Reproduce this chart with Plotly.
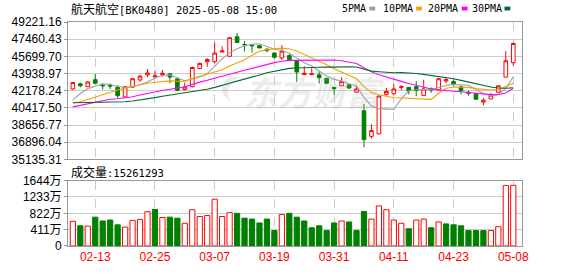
import plotly.graph_objects as go

# ---------------- data ----------------
dates = ["02-10","02-11","02-12","02-13","02-14","02-17","02-18","02-19","02-20","02-21",
         "02-24","02-25","02-26","02-27","02-28","03-03","03-04","03-05","03-06","03-07",
         "03-10","03-11","03-12","03-13","03-14","03-17","03-18","03-19","03-20","03-21",
         "03-24","03-25","03-26","03-27","03-28","03-31","04-01","04-02","04-03","04-07",
         "04-08","04-09","04-10","04-11","04-14","04-15","04-16","04-17","04-18","04-21",
         "04-22","04-23","04-24","04-25","04-28","04-29","04-30","05-06","05-07","05-08"]

opens = [42360,42885,42589,43312,42754,42754,42524,41539,42556,43279,
         43804,43607,43837,43903,43377,42294,42589,44461,45150,45150,
         46135,45708,47711,46923,46857,46792,46430,46037,45544,45774,
         45216,43837,43837,43804,43443,42524,42688,42786,42031,40127,
         37501,37763,41801,41867,42524,42524,42589,41703,42392,42261,
         43180,43115,42589,42031,41867,41014,41342,42031,43574,45052]
highs = [43050,43016,43110,43903,42885,42918,42754,42655,43476,43837,
         44395,44231,44297,44001,43509,43016,44658,45052,45511,47120,
         46726,47678,48105,47284,46923,46857,46529,46135,46857,45938,
         45216,44690,44493,44165,43509,42524,43574,42852,42688,40817,
         38748,41637,42458,42852,42754,42524,43180,43312,42524,43509,
         43509,43312,42688,42195,41933,41440,41966,42688,46233,47120]
lows = [42294,42524,42560,42852,42294,42360,41440,41539,42458,43115,
        43574,43476,43607,42950,42130,42195,42524,44395,44625,44986,
        46135,45708,47120,46201,46069,46529,46102,45478,45347,45347,
        43082,43837,43771,42918,42852,41768,42688,42360,41966,36384,
        37271,37698,41670,41768,42230,41801,41605,41703,41966,42195,
        42950,42622,41801,41670,41309,40685,41342,41933,43574,44723]
closes = [43016,42688,43082,42950,42688,42660,41670,42589,43410,43673,
          44001,43706,43968,43574,42228,42556,44559,44986,45380,46037,
          46266,47612,47120,46890,46792,46562,46299,45610,46233,45347,
          44100,43968,43903,43509,42950,42392,43115,42458,42360,37172,
          38092,41637,42097,42360,42600,42163,42195,42360,42261,43410,
          43312,42819,42195,41933,41309,41210,41736,42688,45249,47021]
# closes of the 29 sessions before the window (estimated from the MA lines)
prior_closes = [42800,42500,42300,42200,42000,41800,41500,41200,40900,40750,
                39500,39800,40000,39600,39400,40600,40900,41000,40300,40200,
                41300,40900,40400,40200,40150,39400,40600,41670,41520]
# volume in 万
volumes = [621,508,500,725,629,653,532,476,645,669,
           862,919,717,725,701,572,911,741,766,1177,
           741,838,822,701,677,580,677,387,790,822,
           725,629,459,508,387,580,629,605,387,870,
           677,1008,911,653,572,435,653,677,459,605,
           556,532,508,387,387,387,387,484,1523,1526.1293]

x_tick_labels = ["02-13","02-25","03-07","03-19","03-31","04-11","04-23","05-08"]
price_ticks = [49221.16,47460.43,45699.70,43938.97,42178.24,40417.50,38656.77,36896.04,35135.31]
vol_ticks = [0,411,822,1233,1644]
vol_tick_text = ["0","411万","822万","1233万","1644万"]
ma_periods = [5,10,20,30]
ma_names = ["5PMA","10PMA","20PMA","30PMA"]
ma_colors = ["#a0a0a0","#f5a000","#ff00ff","#006a35"]
title_cn = "航天航空"
title_rest = "[BK0480] 2025-05-08 15:00"
vol_label_cn = "成交量"

# ---------------- derived ----------------
all_closes = prior_closes + closes
npre = len(prior_closes)
def moving_average(n):
    out = []
    for i in range(len(closes)):
        j = npre + i
        seg = all_closes[j-n+1:j+1]
        out.append(sum(seg)/n)
    return out

RED = "#ff0000"
GREEN = "#008000"
prev = [prior_closes[-1]] + closes[:-1]
vol_up = [c >= p for c, p in zip(closes, prev)]

# ---------------- figure ----------------
W, H = 578, 276
L, R, T, B = 55, 522, 22, 255
PW, PH = R - L, B - T
def px(x): return (x - L) / PW
def py(y): return (B - y) / PH

fig = go.Figure()

for n, name, col in zip(ma_periods, ma_names, ma_colors):
    fig.add_trace(go.Scatter(x=dates, y=moving_average(n), mode="lines", name=name,
                             line=dict(color=col, width=1.1), xaxis="x", yaxis="y",
                             hoverinfo="skip", showlegend=False))

fig.add_trace(go.Candlestick(
    x=dates, open=opens, high=highs, low=lows, close=closes,
    increasing=dict(line=dict(color=RED, width=1), fillcolor="#ffffff"),
    decreasing=dict(line=dict(color=GREEN, width=1), fillcolor=GREEN),
    whiskerwidth=0, xaxis="x", yaxis="y", showlegend=False))

fig.add_trace(go.Bar(
    x=dates, y=volumes, xaxis="x2", yaxis="y2", showlegend=False,
    marker=dict(color=["#ffffff" if u else GREEN for u in vol_up],
                line=dict(color=[RED if u else GREEN for u in vol_up], width=1))))

x_range = [-0.65, len(dates) - 1 + 1.17]
axis_common = dict(showline=True, mirror=True, linecolor="#999999", linewidth=1, zeroline=False)
tickfont_y = dict(family="Liberation Sans, Noto Sans CJK SC", size=12, color="#000000")

fig.update_layout(
    width=W, height=H, autosize=False,
    margin=dict(l=L, r=W - R, t=T, b=H - B, pad=0),
    paper_bgcolor="white", plot_bgcolor="white",
    bargap=0.3, boxgap=0.3,
    xaxis=dict(domain=[0, 1], anchor="y", type="category", range=x_range,
               tickmode="array", tickvals=x_tick_labels, showticklabels=False,
               showgrid=True, gridcolor="#cccccc", griddash="dash", gridwidth=1,
               rangeslider=dict(visible=False), ticks="", **axis_common),
    yaxis=dict(domain=[py(165), 1], anchor="x", range=[price_ticks[-1], price_ticks[0]],
               tickmode="array", tickvals=price_ticks,
               ticktext=[f"{v:.2f}" for v in price_ticks],
               showgrid=True, gridcolor="#cccccc", gridwidth=1,
               ticks="outside", ticklen=3, tickcolor="#999999",
               tickfont=tickfont_y, **axis_common),
    xaxis2=dict(domain=[0, 1], anchor="y2", type="category", range=x_range,
                tickmode="array", tickvals=x_tick_labels, ticktext=x_tick_labels,
                tickfont=dict(family="Liberation Sans", size=12, color=RED),
                showgrid=True, gridcolor="#cccccc", griddash="dash", gridwidth=1,
                ticks="", **axis_common),
    yaxis2=dict(domain=[0, py(187)], anchor="x2", range=[0, vol_ticks[-1]],
                tickmode="array", tickvals=vol_ticks, ticktext=vol_tick_text,
                showgrid=True, gridcolor="#cccccc", gridwidth=1,
                ticks="outside", ticklen=3, tickcolor="#999999",
                tickfont=tickfont_y, **axis_common),
)

MONO = "DejaVu Sans Mono"
def mixed(cn, rest):
    return (f"{cn}<span style='font-family:{MONO};font-size:10.5px'>{rest}</span>")

ann = []
font_cn = dict(family="Noto Sans CJK SC", size=12, color="#000000")
ann.append(dict(text=mixed(title_cn, title_rest), x=px(56), y=py(8), xref="paper", yref="paper",
                xanchor="left", yanchor="middle", showarrow=False, font=font_cn))
ann.append(dict(text=mixed(vol_label_cn, f":{int(round(volumes[-1]*10000))}"),
                x=px(56), y=py(177), xref="paper", yref="paper",
                xanchor="left", yanchor="middle", showarrow=False, font=font_cn))
# watermark
ann.append(dict(text="东方财富", x=px(309), y=py(94), xref="paper", yref="paper",
                xanchor="center", yanchor="middle", showarrow=False,
                font=dict(family="Noto Sans CJK SC", size=34, color="rgba(170,170,170,0.22)",
                          weight="bold", style="italic")))

legend_x = [336, 378, 424, 470]
marker_x = [365, 413, 460, 504]
shapes = []
for name, col, lx, mx in zip(ma_names, ma_colors, legend_x, marker_x):
    ann.append(dict(text=name, x=px(lx), y=py(8), xref="paper", yref="paper",
                    xanchor="left", yanchor="middle", showarrow=False, borderpad=0,
                    font=dict(family=MONO, size=10, color="#000000")))
    shapes.append(dict(type="rect", xref="paper", yref="paper",
                       x0=px(mx), x1=px(mx + 6), y0=py(10), y1=py(6),
                       fillcolor=col, line=dict(width=0)))
# watermark logo (light swirl)
shapes.append(dict(type="path", xref="paper", yref="paper",
                   path=f"M {px(222)},{py(78)} Q {px(204)},{py(92)} {px(222)},{py(104)} "
                        f"Q {px(214)},{py(92)} {px(230)},{py(80)} Z",
                   fillcolor="rgba(170,170,170,0.25)", line=dict(width=0)))

fig.update_layout(annotations=ann, shapes=shapes)
fig.write_html("out.html")
